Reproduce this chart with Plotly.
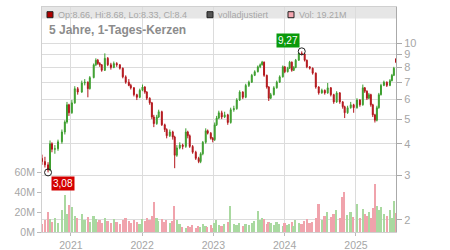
import math
import plotly.graph_objects as go

# ---------------- data ----------------
dates = [
    "2020-08-06", "2020-08-21", "2020-09-06", "2020-09-16", "2020-09-26", "2020-10-11", "2020-10-27", "2020-11-16", "2020-12-01", "2020-12-12",
    "2020-12-22", "2021-01-06", "2021-01-21", "2021-02-05", "2021-02-26", "2021-03-13", "2021-03-29", "2021-04-08", "2021-04-28", "2021-05-09",
    "2021-05-19", "2021-05-29", "2021-06-08", "2021-06-24", "2021-07-09", "2021-07-25", "2021-08-09", "2021-08-24", "2021-09-09", "2021-09-24",
    "2021-10-09", "2021-10-25", "2021-11-04", "2021-11-20", "2021-12-05", "2021-12-20", "2022-01-03", "2022-01-15", "2022-01-25", "2022-02-09",
    "2022-02-20", "2022-03-02", "2022-03-17", "2022-03-27", "2022-04-12", "2022-04-27", "2022-05-07", "2022-05-23", "2022-06-07", "2022-06-17",
    "2022-06-28", "2022-07-13", "2022-07-28", "2022-08-13", "2022-08-23", "2022-09-02", "2022-09-17", "2022-10-03", "2022-10-18", "2022-10-28",
    "2022-11-08", "2022-11-23", "2022-12-03", "2022-12-19", "2022-12-29", "2023-01-08", "2023-01-18", "2023-01-29", "2023-02-13", "2023-02-28",
    "2023-03-16", "2023-03-31", "2023-04-16", "2023-05-01", "2023-05-16", "2023-06-01", "2023-06-16", "2023-07-02", "2023-07-17", "2023-08-01",
    "2023-08-17", "2023-08-29", "2023-09-08", "2023-09-18", "2023-10-02", "2023-10-12", "2023-10-22", "2023-11-07", "2023-11-22", "2023-12-07",
    "2023-12-23", "2024-01-02", "2024-01-17", "2024-01-27", "2024-02-07", "2024-02-17", "2024-02-27", "2024-03-14", "2024-03-29", "2024-04-13",
    "2024-04-24", "2024-05-09", "2024-05-24", "2024-06-09", "2024-06-24", "2024-07-10", "2024-07-25", "2024-08-09", "2024-08-25", "2024-09-09",
    "2024-09-24", "2024-10-10", "2024-10-25", "2024-11-04", "2024-11-19", "2024-12-05", "2024-12-20", "2025-01-06", "2025-01-21", "2025-02-05",
    "2025-02-15", "2025-02-26", "2025-03-08", "2025-03-18", "2025-03-28", "2025-04-08", "2025-04-18", "2025-04-28", "2025-05-09", "2025-05-24",
    "2025-06-08", "2025-06-24", "2025-07-04", "2025-07-14", "2025-07-25",
]

open_ = [
    3.50, 3.40, 3.30, 3.15, 4.00, 3.80, 3.82, 4.07, 4.45, 4.87,
    5.70, 5.30, 5.80, 6.60, 6.40, 6.95, 7.00, 6.60, 7.30, 8.20,
    8.55, 8.30, 8.20, 7.80, 8.70, 8.20, 8.00, 8.30, 8.20, 7.95,
    7.35, 7.00, 6.80, 6.65, 6.25, 6.10, 6.50, 6.70, 6.40, 6.05,
    5.80, 5.10, 4.80, 5.10, 5.35, 4.75, 4.55, 4.30, 4.45, 4.25,
    3.60, 3.85, 3.95, 3.90, 4.45, 4.30, 3.90, 3.70, 3.50, 3.40,
    3.65, 4.05, 4.50, 4.40, 4.20, 4.15, 4.75, 5.05, 5.30, 5.10,
    5.20, 4.85, 5.45, 5.50, 5.95, 6.40, 6.10, 6.80, 7.00, 7.45,
    7.70, 8.05, 8.20, 8.40, 7.45, 6.70, 6.05, 6.25, 6.65, 7.00,
    7.35, 8.05, 7.70, 7.95, 8.40, 7.80, 8.00, 8.55, 9.10, 9.05,
    8.55, 8.05, 7.95, 7.60, 6.70, 6.35, 6.50, 6.35, 6.65, 6.25,
    5.85, 6.35, 5.85, 5.60, 5.30, 5.55, 5.70, 5.55, 5.95, 5.70,
    6.65, 6.45, 6.05, 6.25, 5.70, 5.20, 4.95, 5.55, 6.25, 6.80,
    7.00, 6.80, 7.10, 7.45, 8.66,
]

high = [
    3.62, 3.55, 3.38, 4.12, 4.05, 3.95, 4.15, 4.55, 4.95, 5.85,
    5.75, 5.95, 6.75, 6.70, 7.10, 7.20, 7.05, 7.40, 8.30, 8.70,
    8.65, 8.40, 8.25, 9.10, 8.80, 8.35, 8.45, 8.40, 8.25, 8.00,
    7.45, 7.20, 6.90, 6.70, 6.30, 6.60, 6.85, 6.75, 6.45, 6.10,
    5.85, 5.20, 5.20, 5.45, 5.40, 4.80, 4.60, 4.55, 4.50, 4.30,
    3.95, 4.05, 4.00, 4.60, 4.50, 4.35, 3.95, 3.75, 3.55, 3.70,
    4.10, 4.60, 4.55, 4.45, 4.25, 4.85, 5.15, 5.40, 5.40, 5.35,
    5.25, 5.55, 5.65, 6.05, 6.50, 6.45, 6.90, 7.10, 7.55, 7.80,
    8.15, 8.30, 8.50, 8.45, 7.50, 6.75, 6.35, 6.75, 7.10, 7.45,
    8.15, 8.10, 8.05, 8.50, 8.45, 8.10, 8.65, 9.15, 9.27, 9.10,
    8.60, 8.10, 8.00, 7.65, 6.75, 6.60, 6.55, 6.95, 6.70, 6.30,
    6.45, 6.40, 5.90, 5.65, 5.65, 5.85, 5.75, 6.05, 6.00, 6.85,
    6.70, 6.50, 6.35, 6.30, 5.75, 5.25, 5.65, 6.35, 6.90, 7.10,
    7.05, 7.20, 7.55, 8.05, 8.68,
]

low = [
    3.30, 3.22, 3.08, 3.12, 3.70, 3.65, 3.75, 4.00, 4.35, 4.80,
    5.15, 5.25, 5.75, 6.25, 6.35, 6.80, 6.10, 6.55, 7.25, 8.10,
    8.20, 8.05, 7.70, 7.75, 8.10, 7.85, 7.95, 8.05, 7.85, 7.25,
    6.90, 6.75, 6.55, 6.15, 5.95, 6.05, 6.45, 6.30, 5.95, 5.70,
    5.00, 4.65, 4.75, 5.05, 4.70, 4.45, 4.20, 4.25, 4.15, 3.20,
    3.55, 3.80, 3.80, 3.85, 4.20, 3.85, 3.65, 3.45, 3.35, 3.35,
    3.60, 4.00, 4.35, 4.15, 4.05, 4.10, 4.70, 5.00, 5.00, 5.05,
    4.75, 4.80, 5.35, 5.45, 5.90, 6.00, 6.05, 6.70, 6.95, 7.40,
    7.65, 7.95, 8.15, 7.35, 6.60, 5.90, 6.00, 6.20, 6.60, 6.95,
    7.30, 7.60, 7.65, 7.90, 7.70, 7.75, 7.95, 8.50, 8.95, 8.45,
    7.95, 7.85, 7.50, 6.60, 6.25, 6.30, 6.25, 6.30, 6.15, 5.75,
    5.80, 5.75, 5.50, 5.05, 5.25, 5.50, 5.30, 5.50, 5.60, 5.65,
    6.35, 5.95, 6.00, 5.60, 5.10, 4.85, 4.90, 5.50, 6.20, 6.75,
    6.70, 6.75, 7.05, 7.40, 8.33,
]

close = [
    3.40, 3.30, 3.15, 4.00, 3.80, 3.82, 4.07, 4.45, 4.87, 5.70,
    5.30, 5.80, 6.60, 6.40, 6.95, 7.00, 6.60, 7.30, 8.20, 8.55,
    8.30, 8.20, 7.80, 8.70, 8.20, 8.00, 8.30, 8.20, 7.95, 7.35,
    7.00, 6.80, 6.65, 6.25, 6.10, 6.50, 6.70, 6.40, 6.05, 5.80,
    5.10, 4.80, 5.10, 5.35, 4.75, 4.55, 4.30, 4.45, 4.25, 3.60,
    3.85, 3.95, 3.90, 4.45, 4.30, 3.90, 3.70, 3.50, 3.40, 3.65,
    4.05, 4.50, 4.40, 4.20, 4.15, 4.75, 5.05, 5.30, 5.10, 5.20,
    4.85, 5.45, 5.50, 5.95, 6.40, 6.10, 6.80, 7.00, 7.45, 7.70,
    8.05, 8.20, 8.40, 7.45, 6.70, 6.05, 6.25, 6.65, 7.00, 7.35,
    8.05, 7.70, 7.95, 8.40, 7.80, 8.00, 8.55, 9.10, 9.05, 8.55,
    8.05, 7.95, 7.60, 6.70, 6.35, 6.50, 6.35, 6.65, 6.25, 5.85,
    6.35, 5.85, 5.60, 5.30, 5.55, 5.70, 5.55, 5.95, 5.70, 6.65,
    6.45, 6.05, 6.25, 5.70, 5.20, 4.95, 5.55, 6.25, 6.80, 7.00,
    6.80, 7.10, 7.45, 7.95, 8.40,
]

volume_m = [
    8, 12, 20, 13, 10, 14, 9, 22, 37, 18,
    27, 25, 16, 14, 18, 12, 15, 10, 16, 13,
    10, 12, 9, 14, 11, 9, 13, 10, 8, 12,
    14, 11, 9, 12, 10, 8, 13, 11, 14, 12,
    16, 30, 14, 11, 13, 10, 12, 9, 11, 26,
    12, 8, 5, 4, 6, 5, 7, 4, 6, 5,
    8, 6, 5, 7, 4, 9, 12, 7, 6, 8,
    10, 26, 8, 7, 9, 6, 8, 7, 9, 11,
    21, 12, 14, 13, 8, 10, 9, 7, 10, 8,
    6, 9, 7, 8, 10, 6, 12, 9, 8, 11,
    13, 9, 10, 14, 28, 12, 16, 20, 15, 18,
    22, 14, 35, 40, 17, 20, 15, 28, 14, 23,
    18, 16, 20, 14, 24, 48, 26, 22, 25, 18,
    16, 22, 14, 31, 19.21,
]

low_point = ("2020-09-06", 3.08, "3,08")
high_point = ("2024-03-29", 9.27, "9,27")

legend_ohlc = "Op:8.66, Hi:8.68, Lo:8.33, Cl:8.4"
legend_adj = "volladjustiert"
legend_vol = "Vol: 19.21M"
title_text = "5 Jahre, 1-Tages-Kerzen"

price_ticks = [2, 3, 4, 5, 6, 7, 8, 9, 10]
vol_ticks = [0, 20, 40, 60]

# ---------------- styling ----------------
GREEN = "#3c9e2e"
RED = "#b3151b"
VOL_GREEN = "#a9d9a0"
VOL_RED = "#f0a3ac"
GRID = "#dcdcdc"
TXT = "#a6a6a6"
FONT = "Liberation Sans, Arial, sans-serif"

W, H = 450, 250
L, R, T, B = 42, 54, 7, 18
PW, PH = W - L - R, H - T - B


def px(xp):
    return (xp - L) / PW


def py(yp):
    return (H - B - yp) / PH


vol_colors = [VOL_GREEN if c >= o else VOL_RED for o, c in zip(open_, close)]

fig = go.Figure()

fig.add_trace(go.Bar(
    x=dates, y=[v * 1e6 for v in volume_m], marker_color=vol_colors,
    marker_line_width=0, width=8 * 86400000, yaxis="y", showlegend=False,
))

fig.add_trace(go.Candlestick(
    x=dates, open=open_, high=high, low=low, close=close, yaxis="y2",
    increasing=dict(line=dict(color=GREEN, width=1), fillcolor=GREEN),
    decreasing=dict(line=dict(color=RED, width=1), fillcolor=RED),
    whiskerwidth=0, showlegend=False,
))

fig.add_trace(go.Scatter(
    x=[low_point[0], high_point[0]], y=[low_point[1], high_point[1]], yaxis="y2",
    mode="markers", marker=dict(symbol="circle-open", size=7, color="#222", line=dict(width=1)),
    showlegend=False,
))

annotations = [
    dict(x=high_point[0], y=math.log10(high_point[1]), xref="x", yref="y2", text=high_point[2],
         showarrow=False, xanchor="right", yanchor="bottom", xshift=-2, yshift=3,
         bgcolor="#0a9a0a", font=dict(color="white", size=10, family=FONT), borderpad=1),
    dict(x=low_point[0], y=math.log10(low_point[1]), xref="x", yref="y2", text=low_point[2],
         showarrow=False, xanchor="left", yanchor="top", xshift=3, yshift=-4,
         bgcolor="#d40000", font=dict(color="white", size=10, family=FONT), borderpad=1),
    dict(x=px(47), y=py(30), xref="paper", yref="paper", text="<b>" + title_text + "</b>",
         showarrow=False, xanchor="left", yanchor="middle", font=dict(color="#8c8c8c", size=12, family=FONT)),
    dict(x=px(55.5), y=py(14.8), xref="paper", yref="paper", text=legend_ohlc,
         showarrow=False, xanchor="left", yanchor="middle", font=dict(color=TXT, size=9, family=FONT)),
    dict(x=px(215.5), y=py(14.8), xref="paper", yref="paper", text=legend_adj,
         showarrow=False, xanchor="left", yanchor="middle", font=dict(color=TXT, size=9, family=FONT)),
    dict(x=px(296.5), y=py(14.8), xref="paper", yref="paper", text=legend_vol,
         showarrow=False, xanchor="left", yanchor="middle", font=dict(color=TXT, size=9, family=FONT)),
]

shapes = [
    dict(type="rect", xref="paper", yref="paper", x0=0, x1=1, y0=py(18.5), y1=1,
         fillcolor="#e6e6e6", line=dict(width=0), layer="below"),
]
for x0, fill in [(47, "#b00000"), (207, "#555555"), (288, "#f4a6b0")]:
    shapes.append(dict(type="rect", xref="paper", yref="paper", x0=px(x0), x1=px(x0 + 6),
                       y0=py(17.7), y1=py(11.7), fillcolor=fill, line=dict(color="#222", width=1)))

fig.update_layout(
    width=W, height=H, margin=dict(l=L, r=R, t=T, b=B, autoexpand=False),
    paper_bgcolor="white", plot_bgcolor="white",
    font=dict(family=FONT, color=TXT),
    showlegend=False,
    bargap=0,
    xaxis=dict(
        type="date", range=["2020-08-06", "2025-07-25"], rangeslider=dict(visible=False),
        tick0="2021-01-01", dtick="M12", tickformat="%Y", automargin=False,
        showgrid=True, gridcolor=GRID, gridwidth=1,
        ticks="outside", ticklen=3, tickcolor="#bbb",
        tickfont=dict(size=10.5, color=TXT, family=FONT),
        showline=True, linecolor="#d0d0d0", mirror=True, zeroline=False,
    ),
    yaxis=dict(
        side="left", range=[0, 225e6], automargin=False,
        tickvals=[v * 1e6 for v in vol_ticks], ticktext=[f"{v}M" for v in vol_ticks],
        showgrid=False, zeroline=False,
        ticks="outside", ticklen=4, tickcolor="#bbb",
        tickfont=dict(size=10.5, color=TXT, family=FONT),
        showline=True, linecolor="#d0d0d0",
    ),
    yaxis2=dict(
        overlaying="y", side="right", type="log", automargin=False,
        range=[0.253, 1.1423],
        tickvals=price_ticks, ticktext=[str(v) for v in price_ticks],
        showgrid=True, gridcolor=GRID, gridwidth=1, zeroline=False,
        ticks="outside", ticklen=5, tickcolor="#aaa",
        tickfont=dict(size=11, color=TXT, family=FONT),
        showline=True, linecolor="#aaa",
    ),
    annotations=annotations,
    shapes=shapes,
)

fig.write_html("out.html")
